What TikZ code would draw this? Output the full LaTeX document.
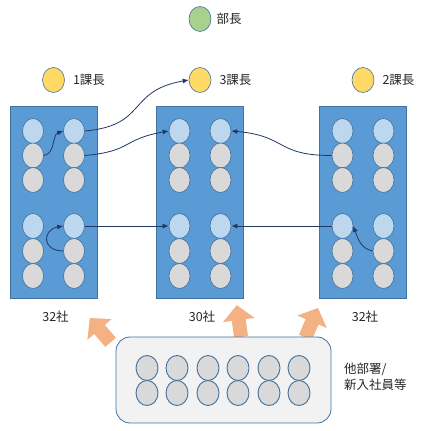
\documentclass[tikz,border=0pt]{standalone}
\usepackage{fontspec}
\newfontfamily\jpfont{Noto Sans CJK JP}
\usetikzlibrary{shapes.geometric,arrows.meta,positioning}
\definecolor{boxblue}{HTML}{5B9BD5}
\definecolor{edgeblue}{HTML}{41719C}
\definecolor{paleblue}{HTML}{BDD7EE}
\definecolor{palegrey}{HTML}{D9D9D9}
\definecolor{chiefgreen}{HTML}{A9D18E}
\definecolor{leadyellow}{HTML}{FFD966}
\definecolor{moveorange}{HTML}{F4B183}
\definecolor{linknavy}{HTML}{203864}
\tikzset{member/.style={ellipse,fill=palegrey,draw=edgeblue,line width=0.6pt,minimum width=21pt,minimum height=25pt,inner sep=0pt},
         team/.style={rectangle,fill=boxblue,draw=edgeblue,line width=0.8pt,minimum width=87pt,minimum height=192pt,inner sep=0pt},
         pool/.style={rectangle,rounded corners=14pt,fill=black!5,draw=edgeblue,line width=0.8pt,minimum width=215pt,minimum height=86pt},
         title/.style={font=\jpfont\fontsize{12.5}{16}\selectfont,text=black!85,inner sep=1pt},
         move/.style={-{Latex[length=6pt,width=5pt]},draw=linknavy,line width=0.8pt}
}
\begin{document}
\begin{tikzpicture}[x=1pt,y=1pt]
\useasboundingbox (0,0) rectangle (425,431);
% department head
\node [member,minimum width=22pt,fill=chiefgreen] (head) at (200,412) {};
\node [title,right=4pt of head] (head-name) {部長};
% the three sections
\foreach \t/\cx/\lbl/\staff in {L/53.5/1/32,M/200/3/30,R/363/2/32}{
  \node [team] (\t) at (\cx,229) {};
  \node [member,minimum width=22pt,fill=leadyellow] (\t-lead) at (\cx,351) {};
  \node [title,right=7pt of \t-lead] (\t-name) {\lbl 課長};
  \node [title] (\t-count) at (\cx+2,114) {\staff 社};
  \foreach \r/\y/\col in {1/300/paleblue,2/275.5/palegrey,3/251/palegrey,4/205/paleblue,5/180/palegrey,6/155/palegrey}
    \foreach \c/\dx in {1/-20.5,2/20.5}
      \node [member,fill=\col] (\t-\r-\c) at (\cx+\dx,\y) {};
}
% transfers
\draw [move] (L-2-1.east) to[out=10,in=200] (L-1-2.west);
\draw [move] (L-5-2.west) to[out=180,in=190,looseness=2.2] (L-4-2.west);
\draw [move] (L-1-2.east) to[out=5,in=190,looseness=1.4] (M-lead.west);
\draw [move] (L-2-2.east) to[out=5,in=190,looseness=1.4] (M-1-1.west);
\draw [move] (L-4-2.east) -- (M-4-1.west);
\draw [move] (R-2-1.west) to[out=180,in=-5,looseness=1.4] (M-1-2.east);
\draw [move] (R-4-1.west) -- (M-4-2.east);
\draw [move] (R-5-2.west) to[out=170,in=-70] (R-4-1.east);
% inflow from outside
\foreach \p/\a in {{100.2,100.8}/130.6,{238.9,110}/97.6,{311.7,108.3}/67}
  \fill [moveorange,shift={(\p)},rotate=\a] (-16,-7) -- (1,-7) -- (1,-16) -- (16,0) -- (1,16) -- (1,7) -- (-16,7) -- cycle;
\node [pool] (other) at (223.5,51) {};
\foreach \c/\x in {1/147,2/177,3/208,4/238,5/269,6/299}
  \foreach \r/\y in {1/63,2/38}
    \node [member,line width=0.9pt,minimum width=22pt] (other-\r-\c) at (\x,\y) {};
\node [title,align=left,anchor=west] (other-name) at (343,54) {他部署/\\新入社員等};
\end{tikzpicture}
\end{document}
